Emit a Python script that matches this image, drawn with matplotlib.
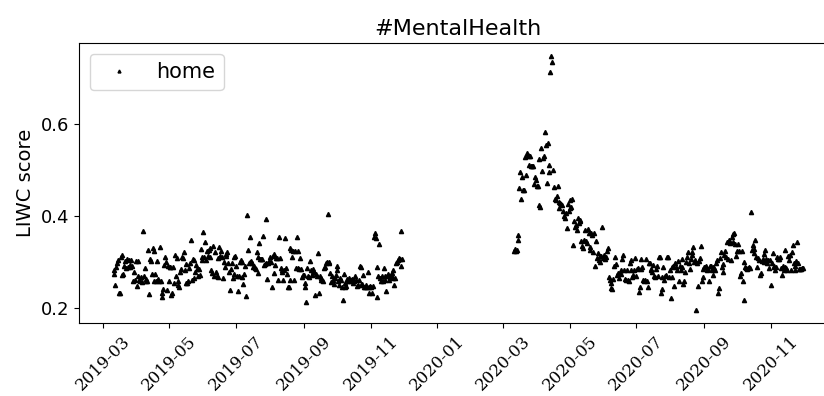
import matplotlib
matplotlib.use('Agg')
import matplotlib.pyplot as plt
import matplotlib.dates as mdates
import pandas as pd

# LIWC skorlari (#MentalHealth, home), gunluk
home_2019 = [
    0.274, 0.283, 0.250, 0.289, 0.298, 0.305, 0.234, 0.234, 0.312, 0.316,
    0.271, 0.274, 0.292, 0.302, 0.287, 0.307, 0.289, 0.305, 0.294, 0.290,
    0.305, 0.292, 0.260, 0.279, 0.261, 0.303, 0.248, 0.302, 0.269, 0.261,
    0.258, 0.267, 0.256, 0.368, 0.269, 0.288, 0.258, 0.263, 0.260, 0.326,
    0.230, 0.307, 0.303, 0.274, 0.330, 0.258, 0.324, 0.274, 0.258, 0.303,
    0.264, 0.260, 0.332, 0.258, 0.234, 0.224, 0.241, 0.294, 0.312, 0.301,
    0.240, 0.292, 0.259, 0.289, 0.289, 0.229, 0.234, 0.289, 0.254, 0.316,
    0.269, 0.308, 0.259, 0.251, 0.247, 0.279, 0.285, 0.312, 0.308, 0.321,
    0.283, 0.254, 0.296, 0.254, 0.258, 0.288, 0.298, 0.347, 0.261, 0.306,
    0.265, 0.305, 0.279, 0.294, 0.285, 0.269, 0.285, 0.272, 0.328, 0.305,
    0.312, 0.366, 0.312, 0.344, 0.305, 0.323, 0.313, 0.326, 0.310, 0.330,
    0.283, 0.276, 0.334, 0.269, 0.321, 0.279, 0.269, 0.308, 0.267, 0.332,
    0.313, 0.323, 0.312, 0.265, 0.301, 0.289, 0.318, 0.313, 0.321, 0.298,
    0.279, 0.240, 0.285, 0.298, 0.265, 0.274, 0.310, 0.313, 0.292, 0.270,
    0.238, 0.269, 0.301, 0.305, 0.267, 0.301, 0.253, 0.274, 0.292, 0.227,
    0.402, 0.326, 0.299, 0.355, 0.301,
    0.303, 0.298, 0.289, 0.292, 0.287, 0.285, 0.321, 0.276, 0.310, 0.342,
    0.306, 0.306, 0.306, 0.357, 0.294, 0.295, 0.393, 0.299, 0.263, 0.299,
    0.303, 0.312, 0.301, 0.247, 0.313, 0.276, 0.318, 0.294, 0.308, 0.308,
    0.261, 0.355, 0.308, 0.287, 0.283, 0.279, 0.261, 0.282, 0.352, 0.287,
    0.274, 0.247, 0.246, 0.261, 0.330, 0.326, 0.312, 0.323, 0.261, 0.325,
    0.287, 0.355, 0.287, 0.323, 0.285, 0.308, 0.285, 0.267, 0.272, 0.272,
    0.246, 0.254, 0.214, 0.287, 0.269, 0.267, 0.303, 0.283, 0.272, 0.279,
    0.285, 0.279, 0.229, 0.274, 0.269, 0.319, 0.234, 0.269, 0.261, 0.265,
    0.261, 0.258, 0.287, 0.289, 0.299, 0.301, 0.404, 0.301, 0.298, 0.276,
    0.256, 0.269, 0.261, 0.253, 0.265, 0.272, 0.283, 0.292, 0.258, 0.251,
    0.265, 0.261, 0.246, 0.218, 0.274, 0.254, 0.246, 0.248, 0.263, 0.258,
    0.265, 0.258, 0.261, 0.263, 0.254, 0.261, 0.258, 0.269, 0.261, 0.248,
    0.251, 0.261, 0.292, 0.251, 0.290, 0.253, 0.272, 0.247, 0.246, 0.251,
    0.246, 0.279, 0.247, 0.233, 0.248, 0.246, 0.233, 0.248, 0.355, 0.364,
    0.352, 0.289, 0.224, 0.269, 0.339, 0.265, 0.258, 0.269, 0.258, 0.287,
    0.261, 0.269, 0.238, 0.269, 0.274, 0.261, 0.267, 0.272, 0.276, 0.283,
    0.265, 0.251, 0.265, 0.298, 0.301, 0.305, 0.308, 0.306, 0.368, 0.292,
    0.306,
]

home_2020 = [
    0.325, 0.328, 0.323, 0.326, 0.348, 0.359, 0.460, 0.496, 0.436, 0.484,
    0.456, 0.456, 0.527, 0.489, 0.536, 0.532, 0.511, 0.529, 0.529, 0.508,
    0.508, 0.508, 0.469, 0.484, 0.477, 0.465, 0.464, 0.523, 0.424, 0.420,
    0.547, 0.498, 0.525, 0.529, 0.583, 0.554, 0.471, 0.558, 0.511, 0.496,
    0.711, 0.747, 0.734, 0.500, 0.462, 0.436, 0.435, 0.443, 0.464, 0.417,
    0.431, 0.429, 0.426, 0.424, 0.410, 0.400, 0.395, 0.406, 0.373, 0.426,
    0.410, 0.435, 0.417, 0.419, 0.436, 0.337, 0.388, 0.377, 0.381, 0.370,
    0.395, 0.384, 0.391, 0.388, 0.345, 0.334, 0.330, 0.348, 0.370, 0.345,
    0.341, 0.371, 0.364, 0.326, 0.332, 0.363, 0.359, 0.321, 0.363, 0.292,
    0.345, 0.309, 0.319, 0.305, 0.314, 0.301, 0.314, 0.377, 0.309, 0.316,
    0.306, 0.312, 0.323, 0.330, 0.267, 0.262, 0.254, 0.244,
    0.241, 0.263, 0.292, 0.310, 0.296, 0.272, 0.277, 0.265, 0.276, 0.274,
    0.282, 0.306, 0.316, 0.283, 0.263, 0.261, 0.283, 0.261, 0.258, 0.298,
    0.305, 0.283, 0.267, 0.272, 0.283, 0.308, 0.270, 0.285, 0.287, 0.236,
    0.246, 0.285, 0.306, 0.290, 0.261, 0.260, 0.261, 0.306, 0.259, 0.247,
    0.299, 0.299, 0.285, 0.282, 0.279, 0.294, 0.269, 0.267, 0.285, 0.292,
    0.269, 0.310, 0.312, 0.234, 0.267, 0.241, 0.289, 0.261, 0.269, 0.272,
    0.310, 0.310, 0.267, 0.283, 0.222, 0.289, 0.267, 0.292, 0.248, 0.299,
    0.289, 0.283, 0.303, 0.258, 0.292, 0.282, 0.306, 0.289, 0.253, 0.258,
    0.279, 0.301, 0.312, 0.321, 0.299, 0.285, 0.306, 0.316, 0.321, 0.332,
    0.301, 0.305, 0.196, 0.298, 0.248, 0.303, 0.308, 0.335, 0.258, 0.267,
    0.285, 0.289, 0.289, 0.292, 0.283, 0.285, 0.258, 0.292, 0.292, 0.283,
    0.272, 0.289, 0.287, 0.282, 0.298, 0.305, 0.233, 0.243, 0.308, 0.321,
    0.289, 0.279, 0.296, 0.316, 0.325, 0.310, 0.344, 0.306, 0.348, 0.341,
    0.305, 0.355, 0.361, 0.344, 0.364, 0.339, 0.313, 0.325, 0.339, 0.325,
    0.269, 0.276, 0.325, 0.258, 0.218, 0.301, 0.289, 0.287, 0.285, 0.287,
    0.289, 0.287, 0.409, 0.326, 0.337, 0.328, 0.319, 0.348, 0.312, 0.289,
    0.308, 0.305, 0.272, 0.276, 0.303, 0.306, 0.301, 0.318, 0.326, 0.306,
    0.299, 0.305, 0.287, 0.305, 0.251, 0.299, 0.319, 0.289, 0.292, 0.283,
    0.289, 0.310, 0.306, 0.306, 0.312, 0.287, 0.272, 0.292, 0.283, 0.326,
    0.289, 0.287, 0.283, 0.313, 0.305, 0.316, 0.282, 0.321, 0.337, 0.299,
    0.292, 0.283, 0.303, 0.344, 0.299, 0.285, 0.285, 0.285, 0.287, 0.287,
]

# Her iki donem de 11 Mart - 30 Kasim arasini kapsiyor
dates_2019 = pd.date_range('2019-03-11', '2019-11-30', periods=len(home_2019))
dates_2020 = pd.date_range('2020-03-11', '2020-11-30', periods=len(home_2020))

plt.rcParams['font.family'] = ['DejaVu Sans']

fig = plt.figure(figsize=(8.24, 3.96), dpi=100)
# sag kenar sekil disina tasiyor (orijinalde kirpilmis)
ax = fig.add_axes([0.096, 0.185, 0.92, 0.706])

ax.plot(dates_2019, home_2019, '^', color='black', markersize=3, linestyle='', label='home')
ax.plot(dates_2020, home_2020, '^', color='black', markersize=3, linestyle='')

ax.set_title('#MentalHealth', fontsize=16)
ax.set_ylabel('LIWC score', fontsize=14)
ax.set_yticks([0.2, 0.4, 0.6])
ax.tick_params(axis='y', labelsize=13)

ax.xaxis.set_major_locator(mdates.MonthLocator(bymonth=[1, 3, 5, 7, 9, 11]))
ax.xaxis.set_major_formatter(mdates.DateFormatter('%Y-%m'))
plt.setp(ax.get_xticklabels(), rotation=45, fontsize=12, family='DejaVu Serif')

ax.legend(loc='upper left', fontsize=15, markerscale=0.7)

fig.savefig('out.png', dpi=100)
